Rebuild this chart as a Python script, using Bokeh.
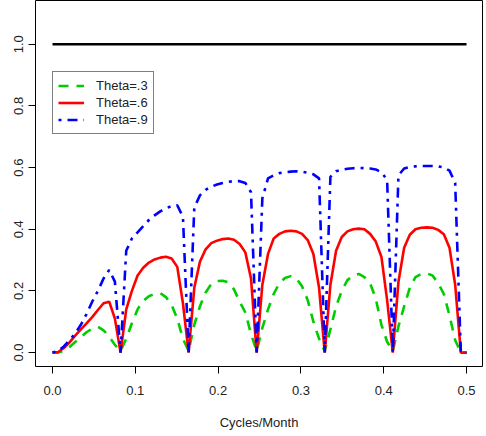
import numpy as np
from bokeh.plotting import figure
from bokeh.models import Range1d, FixedTicker, PrintfTickFormatter, Legend, LegendItem
from bokeh.embed import file_html
from bokeh.resources import INLINE

# frequency grid (cycles/month), 74 points from 0 to 0.5
freq = list(np.arange(74) / 146.0)

x_ticks = [0.0, 0.1, 0.2, 0.3, 0.4, 0.5]
y_ticks = [0.0, 0.2, 0.4, 0.6, 0.8, 1.0]

labels = ["Theta=.3", "Theta=.6", "Theta=.9"]

theta3 = [0, 0, 0.006, 0.018, 0.034, 0.05, 0.066, 0.078, 0.084, 0.072, 0.052, 0.025, 0.005,
          0.045, 0.095, 0.14, 0.168, 0.183, 0.19, 0.193, 0.18, 0.155, 0.11, 0.045, 0.005,
          0.09, 0.15, 0.195, 0.222, 0.232, 0.233, 0.228, 0.205, 0.165, 0.13, 0.06, 0.005,
          0.08, 0.14, 0.19, 0.225, 0.242, 0.248, 0.24, 0.215, 0.17, 0.1, 0.045, 0.005,
          0.075, 0.15, 0.2, 0.235, 0.25, 0.255, 0.245, 0.225, 0.175, 0.09, 0.035, 0.005,
          0.085, 0.15, 0.21, 0.245, 0.255, 0.257, 0.25, 0.225, 0.19, 0.12, 0.04, 0.0, 0.0]

theta6 = [0, 0.002, 0.015, 0.033, 0.055, 0.075, 0.095, 0.115, 0.138, 0.16, 0.165, 0.11, 0,
          0.14, 0.2, 0.25, 0.275, 0.292, 0.302, 0.308, 0.311, 0.305, 0.278, 0.16, 0,
          0.21, 0.295, 0.335, 0.355, 0.363, 0.368, 0.37, 0.366, 0.352, 0.325, 0.24, 0,
          0.22, 0.32, 0.37, 0.385, 0.393, 0.395, 0.393, 0.385, 0.365, 0.32, 0.21, 0,
          0.22, 0.33, 0.375, 0.393, 0.4, 0.402, 0.4, 0.385, 0.36, 0.31, 0.17, 0,
          0.23, 0.34, 0.382, 0.4, 0.405, 0.406, 0.405, 0.398, 0.384, 0.34, 0.22, 0, 0]

theta9 = [0, 0.005, 0.02, 0.04, 0.062, 0.09, 0.125, 0.165, 0.2, 0.24, 0.268, 0.23, 0,
          0.33, 0.37, 0.39, 0.41, 0.43, 0.445, 0.458, 0.468, 0.475, 0.478, 0.44, 0,
          0.47, 0.51, 0.528, 0.538, 0.545, 0.55, 0.554, 0.556, 0.556, 0.55, 0.52, 0,
          0.5, 0.565, 0.575, 0.582, 0.585, 0.587, 0.588, 0.587, 0.583, 0.578, 0.565, 0,
          0.57, 0.588, 0.593, 0.596, 0.598, 0.599, 0.598, 0.597, 0.594, 0.585, 0.56, 0,
          0.575, 0.597, 0.602, 0.604, 0.605, 0.605, 0.605, 0.604, 0.6, 0.59, 0.55, 0, 0]

reference = [1.0] * 74

FONT = "Liberation Sans"
FS = "13px"

p = figure(width=484, height=432, output_backend="svg", toolbar_location=None,
           x_range=Range1d(-0.02053, 0.5193), y_range=Range1d(-0.04516, 1.1419),
           min_border_left=35, min_border_right=2, min_border_top=0, min_border_bottom=64)
p.background_fill_color = "white"
p.border_fill_color = "white"
p.outline_line_color = "black"
p.outline_line_width = 1
p.xgrid.visible = False
p.ygrid.visible = False

for ax in (p.xaxis[0], p.yaxis[0]):
    ax.axis_line_color = None
    ax.major_tick_out = 7
    ax.major_tick_in = 0
    ax.major_tick_line_color = "black"
    ax.minor_tick_line_color = None
    ax.major_label_text_font = FONT
    ax.major_label_text_font_size = FS
    ax.major_label_text_color = "#222222"
    ax.formatter = PrintfTickFormatter(format="%.1f")

p.xaxis.ticker = FixedTicker(ticks=x_ticks)
p.yaxis.ticker = FixedTicker(ticks=y_ticks)
p.xaxis.major_label_standoff = 12
p.yaxis.major_label_standoff = 5
p.yaxis.major_label_orientation = "vertical"
p.xaxis.axis_label = "Cycles/Month"
p.xaxis.axis_label_text_font = FONT
p.xaxis.axis_label_text_font_size = FS
p.xaxis.axis_label_text_font_style = "normal"
p.xaxis.axis_label_text_color = "#222222"
p.xaxis.axis_label_standoff = 17

p.line(freq, reference, line_color="black", line_width=2.5)
g = p.line(freq, theta3, line_color="#00CD00", line_width=2.6, line_dash="10 8")
r = p.line(freq, theta6, line_color="red", line_width=2.6)
b = p.line(freq, theta9, line_color="blue", line_width=2.6, line_dash="3 6 10 6")

legend = Legend(items=[LegendItem(label=labels[0], renderers=[g]),
                       LegendItem(label=labels[1], renderers=[r]),
                       LegendItem(label=labels[2], renderers=[b])],
                location=(17, 232))
legend.border_line_color = "black"
legend.border_line_width = 1
legend.background_fill_color = "white"
legend.background_fill_alpha = 1.0
legend.label_text_font = FONT
legend.label_text_font_size = FS
legend.label_text_color = "#222222"
legend.glyph_width = 26
legend.glyph_height = 17
legend.label_height = 17
legend.label_standoff = 12
legend.spacing = 0
legend.padding = 5
legend.margin = 0
p.add_layout(legend)

open("out.html", "w").write(file_html(p, INLINE))
